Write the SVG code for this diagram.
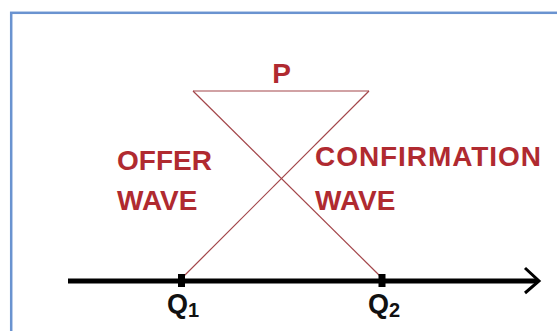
<svg xmlns="http://www.w3.org/2000/svg" width="557" height="331" viewBox="0 0 557 331">
<style>
.lbl{font-family:"Liberation Sans",Arial,sans-serif;font-weight:bold;font-size:28px;fill:#b02a30}
.q{font-family:"Liberation Sans",Arial,sans-serif;font-weight:bold;font-size:27px;fill:#111}
.sub{font-family:"Liberation Sans",Arial,sans-serif;font-size:20px;fill:#111}
.wave{stroke:#a3464a;stroke-width:1.2;fill:none}
</style>
<rect width="557" height="331" fill="#fff"/>
<rect x="11.2" y="12.8" width="560" height="340" fill="none" stroke="#6a93d0" stroke-width="2.5"/>
<g id="connectors">
<line class="wave" x1="193" y1="91" x2="369" y2="91"/>
<line class="wave" x1="193" y1="91" x2="382" y2="278"/>
<line class="wave" x1="369" y1="91" x2="182" y2="278"/>
<line x1="68" y1="281" x2="538" y2="281" stroke="#000" stroke-width="5"/>
<polyline points="525,268 539,281 525,293" fill="none" stroke="#000" stroke-width="3"/>
</g>
<g id="P"><text class="lbl" x="281.5" y="83" text-anchor="middle">P</text></g>
<g id="offer"><text class="lbl" x="117" y="170">OFFER</text><text class="lbl" x="117" y="210">WAVE</text></g>
<g id="confirmation"><text class="lbl" x="315" y="166" textLength="226" lengthAdjust="spacing">CONFIRMATION</text><text class="lbl" x="315" y="210">WAVE</text></g>
<g id="Q1"><rect x="178" y="274" width="7" height="13" fill="#000"/><text class="q" x="167" y="313">Q<tspan class="sub" dy="4">1</tspan></text></g>
<g id="Q2"><rect x="378.5" y="274" width="7" height="13" fill="#000"/><text class="q" x="368" y="313">Q<tspan class="sub" dy="4">2</tspan></text></g>
</svg>
